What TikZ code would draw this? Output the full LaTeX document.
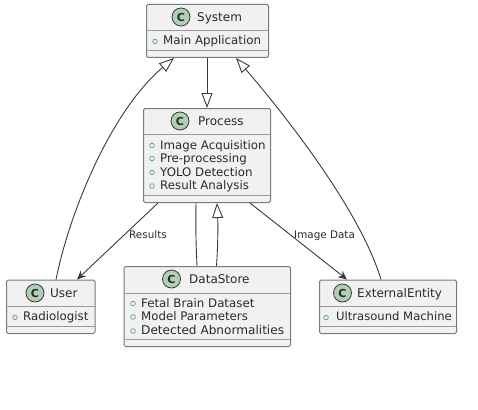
\documentclass[tikz,border=0pt]{standalone}
\usepackage{fontspec}
\setmainfont{DejaVu Sans}
\usetikzlibrary{arrows.meta,calc}
\definecolor{boxfill}{HTML}{F1F1F1}
\definecolor{boxline}{HTML}{7A7A7A}
\definecolor{sepline}{HTML}{9A9A9A}
\definecolor{spot}{HTML}{ADD1B2}
\definecolor{memberdot}{HTML}{5E9C94}
\definecolor{inkc}{HTML}{2A2A2A}
\definecolor{linec}{HTML}{3A3A3A}
\tikzset{
  x=1pt,y=-1pt,
  cls/.style={draw=boxline,fill=boxfill,line width=1pt,rounded corners=1.5pt,inner sep=0pt,anchor=north west},
  sepl/.style={draw=sepline,line width=0.9pt},
  spotc/.style={circle,draw=linec,fill=spot,line width=0.8pt,minimum size=18pt,inner sep=0pt,font=\fontsize{11}{11}\selectfont\bfseries,text=inkc},
  title/.style={anchor=base west,inner sep=0pt,font=\fontsize{12}{13}\selectfont,text=inkc},
  member/.style={anchor=base west,inner sep=0pt,font=\fontsize{11.8}{13}\selectfont,text=inkc},
  vis/.style={circle,draw=memberdot,line width=0.7pt,minimum size=4.6pt,inner sep=0pt},
  lab/.style={anchor=base west,inner sep=0pt,font=\fontsize{10.4}{12}\selectfont,text=inkc},
  conn/.style={draw=linec,line width=0.9pt},
  inherit/.style={conn,-{Triangle[open,length=15pt,width=11pt,fill=white]}},
  assoc/.style={conn,-{Stealth[length=9pt,width=8pt,inset=3pt]}},
}
\begin{document}
\begin{tikzpicture}
\useasboundingbox (0,0) rectangle (478,409);
\node[cls,minimum width=122pt,minimum height=53pt] (sys) at (146,4) {};
\node[cls,minimum width=127pt,minimum height=94pt] (proc) at (143,108) {};
\node[cls,minimum width=88.5pt,minimum height=53.5pt] (user) at (6,279.5) {};
\node[cls,minimum width=166.5pt,minimum height=80pt] (ds) at (123.5,266) {};
\node[cls,minimum width=137pt,minimum height=53.5pt] (ext) at (319,279.5) {};
% separators
\draw[sepl] (146,30.5) -- (268,30.5) (146,50.5) -- (268,50.5);
\draw[sepl] (143,134.5) -- (270,134.5) (143,195.5) -- (270,195.5);
\draw[sepl] (6,306) -- (94.5,306) (6,326) -- (94.5,326);
\draw[sepl] (123.5,293) -- (290,293) (123.5,339) -- (290,339);
\draw[sepl] (319,306) -- (456,306) (319,326) -- (456,326);
% titles
\node[spotc] (sysC) at (181,17) {C};
\node[title] (sysT) at (197,21.5) {System};
\node[spotc] (procC) at (180,121) {C};
\node[title] (procT) at (198,125.5) {Process};
\node[spotc] (userC) at (35,293) {C};
\node[title] (userT) at (50,297.5) {User};
\node[spotc] (dsC) at (171.5,279) {C};
\node[title] (dsT) at (189,283.5) {DataStore};
\node[spotc] (extC) at (342.5,293) {C};
\node[title] (extT) at (357,297.5) {ExternalEntity};
% members
\node[vis] (v1) at (155,41.5) {}; \node[member] (m1) at (163,45) {Main Application};
\node[vis] (v2) at (152,145.5) {}; \node[member] (m2) at (160,149) {Image Acquisition};
\node[vis] (v3) at (152,158.5) {}; \node[member] (m3) at (160,162.5) {Pre-processing};
\node[vis] (v4) at (152,172.5) {}; \node[member] (m4) at (160,176) {YOLO Detection};
\node[vis] (v5) at (152,186) {}; \node[member] (m5) at (160,189.5) {Result Analysis};
\node[vis] (v6) at (15,317.5) {}; \node[member] (m6) at (23,320) {Radiologist};
\node[vis] (v7) at (133,303.5) {}; \node[member] (m7) at (141,307) {Fetal Brain Dataset};
\node[vis] (v8) at (133,317) {}; \node[member] (m8) at (141,320.5) {Model Parameters};
\node[vis] (v9) at (133,331) {}; \node[member,font=\fontsize{12.1}{13}\selectfont] (m9) at (141,334) {Detected Abnormalities};
\node[vis] (v10) at (326,317.5) {}; \node[member,font=\fontsize{11.6}{13}\selectfont] (m10) at (336,320) {Ultrasound Machine};
% connectors
\draw[inherit] ([xshift=61pt]sys.south west) -- ([xshift=64pt]proc.north west);
\draw[inherit] ([xshift=50pt]user.north west) .. controls (70,210) and (112,110) .. ([xshift=28pt]sys.south west);
\draw[inherit] ([xshift=62pt]ext.north west) .. controls (360,210) and (285,115) .. ([xshift=90pt]sys.south west);
\draw[assoc] ([xshift=15pt]proc.south west) -- ([xshift=71pt]user.north west);
\draw[assoc] ([xshift=107pt]proc.south west) -- ([xshift=28pt]ext.north west);
\draw[conn] ([xshift=53pt]proc.south west) .. controls (195.5,225) and (196,245) .. ([xshift=73.5pt]ds.north west);
\draw[inherit] ([xshift=93pt]ds.north west) .. controls (218,245) and (218,225) .. ([xshift=74pt]proc.south west);
% edge labels
\node[lab] (l1) at (129,238) {Results};
\node[lab] (l2) at (294,238) {Image Data};
\end{tikzpicture}
\end{document}
